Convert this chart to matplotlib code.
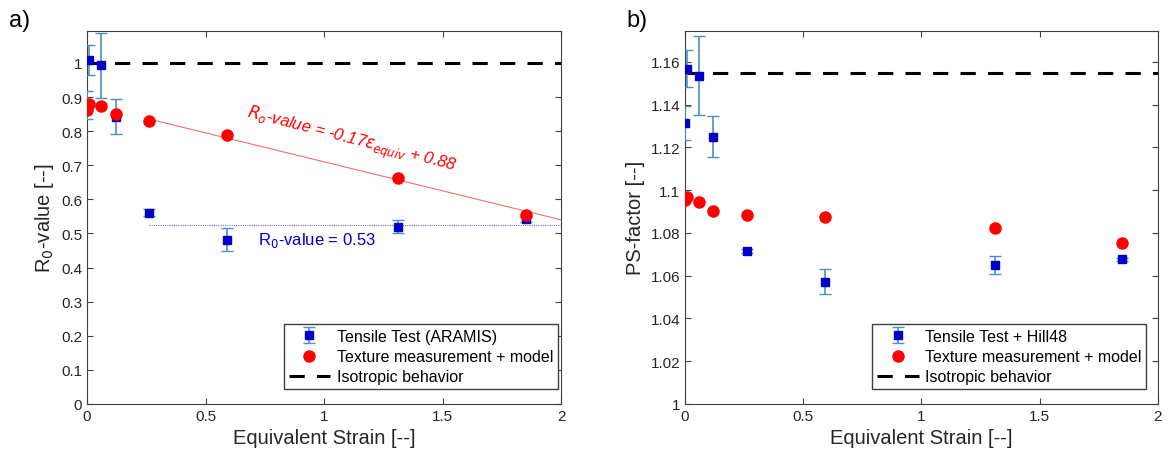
import matplotlib
matplotlib.use('Agg')
import matplotlib.pyplot as plt

plt.rcParams['font.family'] = ['Liberation Sans', 'DejaVu Sans']

# equivalent strain of the samples
strain = [0.0, 0.01, 0.06, 0.12, 0.26, 0.59, 1.31, 1.85]

# a) R0-value
r0_tensile = [0.876, 1.009, 0.993, 0.843, 0.561, 0.482, 0.520, 0.541]
r0_tensile_err = [0.041, 0.044, 0.095, 0.050, 0.010, 0.033, 0.020, 0.008]
r0_texture = [0.862, 0.880, 0.875, 0.849, 0.830, 0.790, 0.663, 0.554]
r0_fit_x = [0.26, 2.0]
r0_fit_slope, r0_fit_icpt = -0.17, 0.88
r0_mean = 0.525
r0_iso = 1.0

# b) PS-factor
ps_tensile = [1.1313, 1.1568, 1.1536, 1.125, 1.0716, 1.0572, 1.0650, 1.0677]
ps_tensile_err = [0.008, 0.0087, 0.0183, 0.0097, 0.001, 0.0059, 0.0042, 0.0008]
ps_texture = [1.0954, 1.0967, 1.0945, 1.0904, 1.0886, 1.0875, 1.0825, 1.0753]
ps_iso = 1.155

blue = '#0000c8'
err_col = '#4a90c8'
red = '#ff0000'
grey = '#404040'
txt = '#262626'

fig = plt.figure(figsize=(11.69, 4.56), dpi=100)
ax1 = fig.add_axes([0.0745, 0.112, 0.4055, 0.818])
ax2 = fig.add_axes([0.586, 0.112, 0.4045, 0.818])


def style_axes(ax):
    ax.tick_params(direction='in', top=True, right=True, labelsize=11,
                   colors=grey, labelcolor=txt, length=4)
    for s in ax.spines.values():
        s.set_color(grey)
        s.set_linewidth(0.8)
    ax.set_xlim(0, 2)
    ax.set_xticks([0, 0.5, 1, 1.5, 2])
    ax.set_xticklabels(['0', '0.5', '1', '1.5', '2'])
    ax.set_xlabel('Equivalent Strain [--]', fontsize=14.5, color=txt)


def draw_panel(ax, y_tens, y_err, y_tex, y_iso, tens_label):
    h1 = ax.errorbar(strain, y_tens, yerr=y_err, fmt='s', color=blue,
                     ecolor=err_col, elinewidth=1.2, capsize=4, markersize=5.5,
                     label=tens_label, zorder=3)
    h2, = ax.plot(strain, y_tex, 'o', color=red, markersize=8,
                  label='Texture measurement + model', zorder=4)
    h3 = ax.axhline(y_iso, color='black', linestyle=(0, (5, 4)), linewidth=2.2,
                    label='Isotropic behavior', zorder=2)
    return [h1, h2, h3]


def add_legend(ax, handles, x_anchor):
    ax.legend(handles=handles, loc='lower right',
              bbox_to_anchor=(x_anchor, 0.04), fontsize=11.5,
              frameon=True, fancybox=False, edgecolor=grey, framealpha=1,
              handlelength=2.6, handletextpad=0.4, borderpad=0.3,
              labelspacing=0.32, borderaxespad=0)


# ---- panel a ----
hs = draw_panel(ax1, r0_tensile, r0_tensile_err, r0_texture, r0_iso,
                'Tensile Test (ARAMIS)')
fit_y = [r0_fit_slope * x + r0_fit_icpt for x in r0_fit_x]
ax1.plot(r0_fit_x, fit_y, color='#f07070', linewidth=0.8, zorder=1)
ax1.plot(r0_fit_x, [r0_mean, r0_mean], color='#7070d8', linewidth=0.8,
         linestyle=(0, (1, 1)), zorder=1)
ax1.text(1.115, 0.776, r'$R_o$-value = -0.17$\epsilon_{equiv}$ + 0.88',
         color=red, fontsize=12, style='italic', rotation=-14.5,
         ha='center', va='center', rotation_mode='anchor')
ax1.text(0.72, 0.482, r'R$_0$-value = 0.53', color=blue, fontsize=12,
         ha='left', va='center')
ax1.set_ylim(0, 1.094)
ax1.set_yticks([i / 10 for i in range(11)])
ax1.set_yticklabels(['0', '0.1', '0.2', '0.3', '0.4', '0.5', '0.6', '0.7',
                     '0.8', '0.9', '1'])
ax1.set_ylabel(r'R$_0$-value [--]', fontsize=14.5, color=txt)
style_axes(ax1)
add_legend(ax1, hs, 0.993)

# ---- panel b ----
hs = draw_panel(ax2, ps_tensile, ps_tensile_err, ps_texture, ps_iso,
                'Tensile Test + Hill48')
ax2.set_ylim(1, 1.1745)
ax2.set_yticks([1, 1.02, 1.04, 1.06, 1.08, 1.1, 1.12, 1.14, 1.16])
ax2.set_yticklabels(['1', '1.02', '1.04', '1.06', '1.08', '1.1', '1.12',
                     '1.14', '1.16'])
ax2.set_ylabel('PS-factor [--]', fontsize=14.5, color=txt)
style_axes(ax2)
add_legend(ax2, hs, 0.975)

fig.text(0.008, 0.955, 'a)', fontsize=17, ha='left', va='center')
fig.text(0.536, 0.955, 'b)', fontsize=17, ha='left', va='center')

fig.savefig('out.png', dpi=100)
